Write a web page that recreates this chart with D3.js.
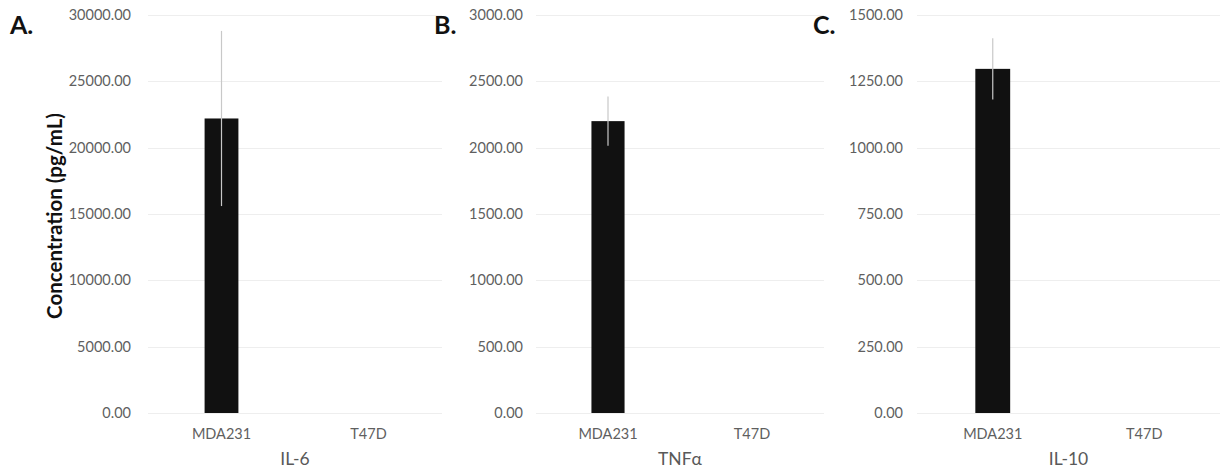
<html lang='en'>
<head>
    <meta content='text/html; charset=utf-8' http-equiv='Content-Type'>
    <title>Cytokine concentrations</title>
    <script src="https://cdnjs.cloudflare.com/ajax/libs/d3/7.8.5/d3.min.js"></script>
    <style>
        body { margin: 0; background: #fff; font-family: Lato, "Open Sans", sans-serif; }
        .tick text { fill: #5f5f5f; font-size: 14.5px; }
        .grid line { stroke: #eeeeee; stroke-width: 1px; shape-rendering: crispEdges; }
        .bar { fill: #111111; }
        .err { stroke: #c8c8c8; stroke-width: 1.2px; }
        .xtitle { fill: #595959; font-size: 17.5px; }
        .letter { font-weight: bold; font-size: 25px; fill: #111; }
        .ytitle { font-weight: bold; font-size: 20.5px; fill: #111; }
    </style>
</head>
<body>
<script>
// data
var categories = ["MDA231", "T47D"];
var panelNames = ["IL-6", "TNFα", "IL-10"];
var panelLetters = ["A.", "B.", "C."];
var il6Values = [22200, 0];
var il6Errors = [6600, 0];
var tnfValues = [2200, 0];
var tnfErrors = [185, 0];
var il10Values = [1297, 0];
var il10Errors = [115, 0];
var il6Ticks = [0, 5000, 10000, 15000, 20000, 25000, 30000];
var tnfTicks = [0, 500, 1000, 1500, 2000, 2500, 3000];
var il10Ticks = [0, 250, 500, 750, 1000, 1250, 1500];

var panels = [
    {name: panelNames[0], letter: panelLetters[0], values: il6Values, errors: il6Errors, ticks: il6Ticks,
     labelX: 131, x0: 148, x1: 442, letterX: 10},
    {name: panelNames[1], letter: panelLetters[1], values: tnfValues, errors: tnfErrors, ticks: tnfTicks,
     labelX: 523, x0: 536, x1: 824, letterX: 434},
    {name: panelNames[2], letter: panelLetters[2], values: il10Values, errors: il10Errors, ticks: il10Ticks,
     labelX: 903, x0: 917, x1: 1220, letterX: 813}
];

var width = 1220, height = 473,
    plotTop = 15, plotBottom = 413;

var svg = d3.select("body").append("svg")
    .attr("width", width)
    .attr("height", height);

panels.forEach(function(p) {
    var g = svg.append("g");

    var x = d3.scaleBand()
        .domain(categories)
        .range([p.x0, p.x1])
        .paddingInner(0.77)
        .paddingOuter(0.385);

    var y = d3.scaleLinear()
        .domain([0, d3.max(p.ticks)])
        .range([plotBottom, plotTop]);

    // gridlines
    g.append("g").attr("class", "grid")
        .selectAll("line")
        .data(p.ticks)
        .enter().append("line")
        .attr("x1", p.x0)
        .attr("x2", p.x1)
        .attr("y1", function(d) { return Math.round(y(d)) + 0.5; })
        .attr("y2", function(d) { return Math.round(y(d)) + 0.5; });

    // y axis labels
    var ya = g.append("g")
        .attr("transform", "translate(" + p.labelX + ",0)")
        .call(d3.axisLeft(y).tickValues(p.ticks).tickSize(0).tickPadding(0).tickFormat(d3.format(".2f")));
    ya.select(".domain").remove();
    ya.selectAll("text").style("font-family", "Lato, sans-serif");

    // x axis labels
    var xa = g.append("g")
        .attr("transform", "translate(0," + (plotBottom + 16) + ")")
        .call(d3.axisBottom(x).tickSize(0).tickPadding(0));
    xa.select(".domain").remove();
    xa.selectAll("text").style("font-family", "Lato, sans-serif");

    // bars
    g.selectAll(".bar")
        .data(categories)
        .enter().append("rect")
        .attr("class", "bar")
        .attr("x", function(d) { return x(d); })
        .attr("width", x.bandwidth())
        .attr("y", function(d, i) { return y(p.values[i]); })
        .attr("height", function(d, i) { return y(0) - y(p.values[i]); });

    // error bars
    g.selectAll(".err")
        .data(categories.filter(function(d, i) { return p.errors[i] > 0; }))
        .enter().append("line")
        .attr("class", "err")
        .attr("x1", function(d) { return x(d) + x.bandwidth() / 2; })
        .attr("x2", function(d) { return x(d) + x.bandwidth() / 2; })
        .attr("y1", function(d) { var i = categories.indexOf(d); return y(p.values[i] - p.errors[i]); })
        .attr("y2", function(d) { var i = categories.indexOf(d); return y(p.values[i] + p.errors[i]); });

    // x title
    g.append("text")
        .attr("class", "xtitle")
        .attr("x", (x(categories[0]) + x(categories[1]) + x.bandwidth()) / 2)
        .attr("y", 465)
        .attr("text-anchor", "middle")
        .text(p.name);

    // panel letter
    g.append("text")
        .attr("class", "letter")
        .attr("x", p.letterX)
        .attr("y", 34)
        .text(p.letter);
});

svg.append("text")
    .attr("class", "ytitle")
    .attr("transform", "translate(62,216) rotate(-90)")
    .attr("text-anchor", "middle")
    .text("Concentration (pg/mL)");
</script>
</body>
</html>
